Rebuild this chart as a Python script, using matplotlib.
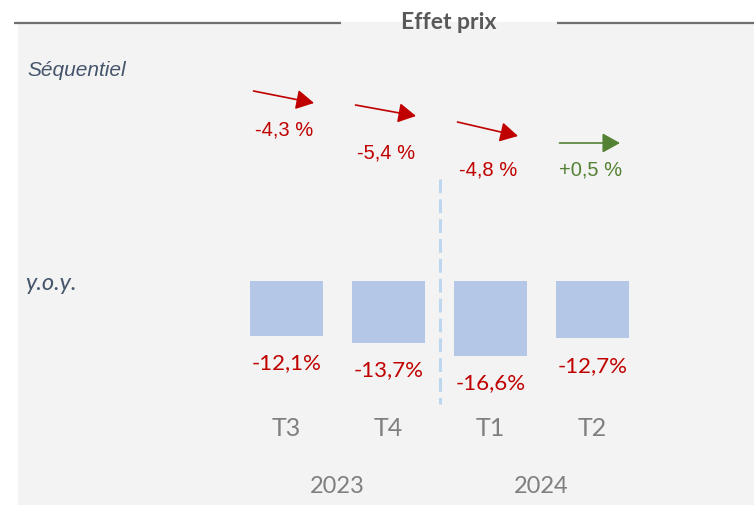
import matplotlib
matplotlib.use("Agg")
import matplotlib.pyplot as plt
from matplotlib.patches import Rectangle
from matplotlib.transforms import blended_transform_factory

# data
quarters = ["T3", "T4", "T1", "T2"]
years = ["2023", "2024"]
seq_values = [-4.3, -5.4, -4.8, 0.5]
seq_labels = ["-4,3 %", "-5,4 %", "-4,8 %", "+0,5 %"]
yoy_values = [-12.1, -13.7, -16.6, -12.7]
yoy_labels = ["-12,1%", "-13,7%", "-16,6%", "-12,7%"]

# layout (pixels from top of figure)
arrow_y = [(92, 104), (106, 117), (123, 137), (144, 144)]
seq_label_y = [130, 153, 170, 170]

RED = "#c00000"
GREEN = "#548235"
GREY = "#7f7f7f"
W, H = 754, 506

fig = plt.figure(figsize=(W / 100, H / 100), dpi=100)
fig.patches.append(Rectangle((18 / W, 0), 1 - 18 / W, (H - 23) / H,
                             transform=fig.transFigure, color="#f3f3f3", zorder=-10))

# pixel axes for decoration
ax0 = fig.add_axes([0, 0, 1, 1])
ax0.set_xlim(0, W)
ax0.set_ylim(H, 0)
ax0.axis("off")
ax0.patch.set_alpha(0)

# value axes: category index on x, percent on y
ax = fig.add_axes([0, 0, 1, 1])
step, x0, y0, ppu = 102.0, 286.5, 281.5, 4.55
ax.set_xlim(-x0 / step, (W - x0) / step)
ax.set_ylim(-(H - y0) / ppu, y0 / ppu)
ax.axis("off")
ax.patch.set_alpha(0)
tr = blended_transform_factory(ax.transData, ax0.transData)

# header
ax0.plot([14, 341], [24, 24], color="#6f6f6f", lw=1.6, solid_capstyle="butt")
ax0.plot([557, W], [24, 24], color="#6f6f6f", lw=1.6, solid_capstyle="butt")
ax0.text(449, 22, "Effet prix", ha="center", va="center", fontsize=16.5,
         fontweight="bold", color="#595959", family="Lato")

ax0.text(27, 70, "Séquentiel", ha="left", va="center", fontsize=15,
         style="italic", color="#44546a", family="Liberation Sans")
ax0.text(25, 283, "y.o.y.", ha="left", va="center", fontsize=17,
         style="italic", color="#44546a", family="Lato")

xs = list(range(len(quarters)))

# sequential arrows
for i, v in enumerate(seq_values):
    c = GREEN if v > 0 else RED
    ya, yb = arrow_y[i]
    ax.annotate("", xy=(i + 27.5 / step, yb), xytext=(i - 33 / step, ya),
                xycoords=tr, textcoords=tr,
                arrowprops=dict(arrowstyle="-|>,head_length=0.45,head_width=0.25",
                                color=c, lw=1.2, mutation_scale=24,
                                shrinkA=0, shrinkB=0))
    ax.text(i - 2 / step, seq_label_y[i], seq_labels[i], transform=tr,
            ha="center", va="center", fontsize=14.5, color=c,
            family="Liberation Sans")

# y.o.y. bars
ax.bar(xs, yoy_values, width=0.716, color="#b4c7e7")
for i, v in enumerate(yoy_values):
    ax.annotate(yoy_labels[i], (i, v), xytext=(0, -19), textcoords="offset points",
                ha="center", va="center", fontsize=16, color=RED, family="Lato")

# separator
ax.plot([1.5, 1.5], [180, 405], transform=tr, color="#bdd7ee", lw=2.2,
        linestyle=(0, (4.5, 2)))

for i, q in enumerate(quarters):
    ax.text(i, 429, q, transform=tr, ha="center", va="center", fontsize=18,
            color=GREY, family="Lato")
for j, yr in enumerate(years):
    ax.text(0.5 + 2 * j, 487, yr, transform=tr, ha="center", va="center",
            fontsize=17, color=GREY, family="Lato")

fig.savefig("out.png", dpi=100)
